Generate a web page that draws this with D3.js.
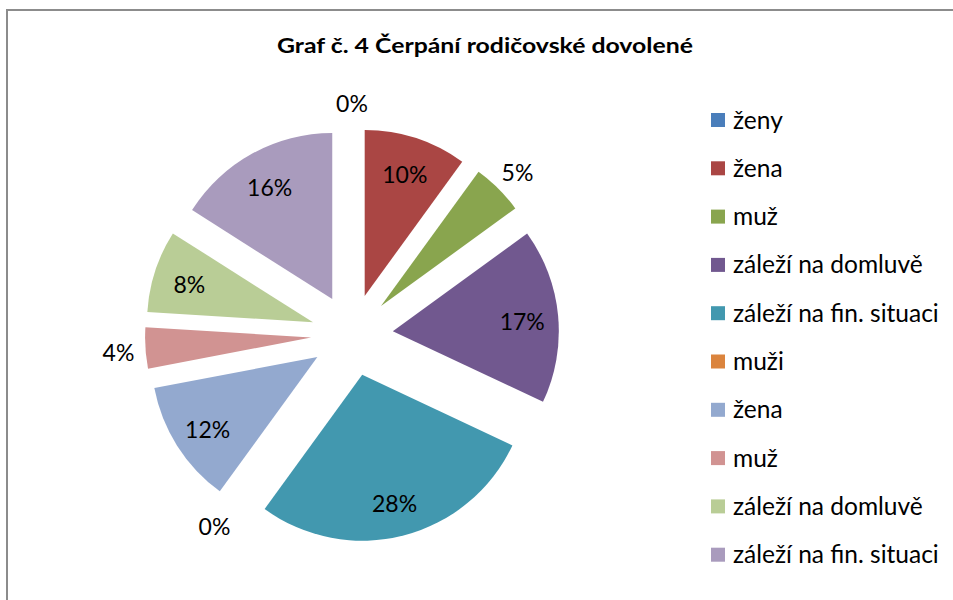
<!DOCTYPE html>
<html>
<head>
<meta charset="utf-8">
<script src="https://cdn.jsdelivr.net/npm/d3@7"></script>
<style>
  body { margin: 0; background: #fff; }
  text { font-family: Lato, "Noto Sans", sans-serif; fill: #000; }
</style>
</head>
<body>
<div class="chart"></div>
<script>
// data
const categories = ["ženy", "žena", "muž", "záleží na domluvě", "záleží na fin. situaci",
                    "muži", "žena", "muž", "záleží na domluvě", "záleží na fin. situaci"];
const values = [0, 10, 5, 17, 28, 0, 12, 4, 8, 16];
const colors = ["#4a7ebb", "#aa4644", "#89a54e", "#71588f", "#4298af",
                "#db843d", "#93a9cf", "#d19392", "#b9cd96", "#a99bbd"];
const title = "Graf č. 4 Čerpání rodičovské dovolené";

const width = 953, height = 600;
const cx = 352, cy = 335, radius = 166, explode = 41;

let svg = d3.select(".chart")
    .append("svg")
    .attr("width", width)
    .attr("height", height);

// frame
svg.append("rect")
    .attr("x", 7).attr("y", 10)
    .attr("width", 1000).attr("height", 700)
    .attr("fill", "none")
    .attr("stroke", "#8c8c8c")
    .attr("stroke-width", 2);

// title
svg.append("text")
    .attr("x", 485).attr("y", 53)
    .attr("text-anchor", "middle")
    .attr("font-size", 21)
    .attr("font-weight", "bold")
    .attr("textLength", 416)
    .attr("lengthAdjust", "spacingAndGlyphs")
    .text(title);

// pie
let pie = d3.pie().sort(null).value(d => d);
let arcs = pie(values);
let arc = d3.arc().innerRadius(0).outerRadius(radius);

let g = svg.append("g")
    .attr("transform", "translate(" + cx + "," + cy + ")");

let mid = d => (d.startAngle + d.endAngle) / 2;

g.selectAll("path")
    .data(arcs)
    .enter()
    .append("path")
    .attr("d", arc)
    .attr("fill", (d, i) => colors[i])
    .attr("transform", d => "translate(" + (Math.sin(mid(d)) * explode) + "," + (-Math.cos(mid(d)) * explode) + ")");

// labels: small slices outside, others inside
let labelR = d => d.data < 6 ? 193 : 130;

g.selectAll(".label")
    .data(arcs)
    .enter()
    .append("text")
    .attr("class", "label")
    .attr("text-anchor", "middle")
    .attr("dy", "0.35em")
    .attr("font-size", 23)
    .attr("x", d => Math.sin(mid(d)) * (explode + labelR(d)))
    .attr("y", d => -Math.cos(mid(d)) * (explode + labelR(d)) + 3)
    .text(d => d.data + "%");

// legend
let legend = svg.selectAll(".legend")
    .data(categories)
    .enter()
    .append("g")
    .attr("class", "legend")
    .attr("transform", (d, i) => "translate(711," + (120 + i * 48.3) + ")");

legend.append("rect")
    .attr("x", 0).attr("y", -7)
    .attr("width", 14).attr("height", 14)
    .attr("fill", (d, i) => colors[i]);

legend.append("text")
    .attr("x", 22)
    .attr("dy", "0.35em")
    .attr("font-size", 24.5)
    .text(d => d);
</script>
</body>
</html>
